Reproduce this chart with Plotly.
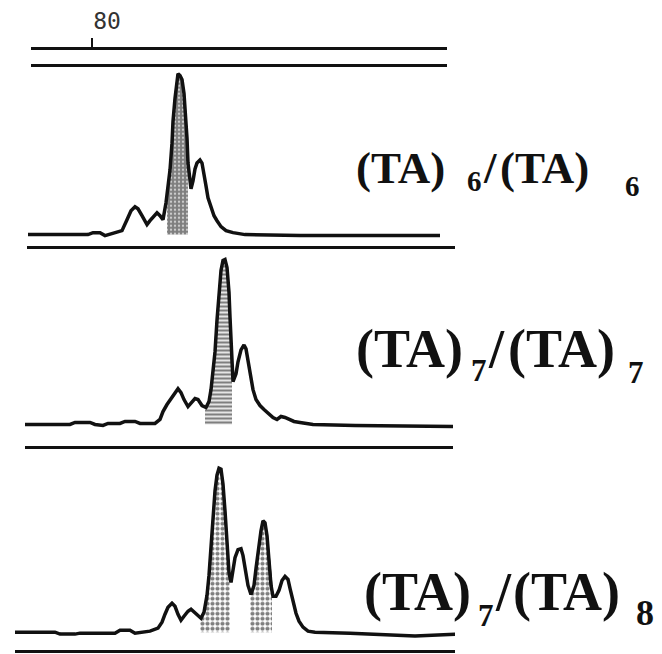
import numpy as np
import plotly.graph_objects as go

# page body adds an 8px margin, so the figure is drawn 8px in from the window corner
OFF = 8
W, H = 662 - OFF, 654 - OFF

# ---------------- data ----------------
ruler_tickvals = [80]
ruler_ticktext = ["80"]

# Panel 1: (TA)6/(TA)6  -- size (bp) vs relative fluorescence
p1_bp = [73.6, 79.6, 80.1, 80.8, 81.3, 82.0, 82.6, 83.0, 83.5, 83.9, 84.3, 84.6, 85.0, 85.5, 85.8,
         86.1, 86.5, 86.8, 87.1, 87.4, 87.6, 87.8, 88.0, 88.1, 88.3, 88.5, 88.6, 88.8, 89.0, 89.2,
         89.4, 89.5, 89.6, 89.8, 89.9, 90.1, 90.3, 90.5, 90.8, 91.0, 91.2, 91.4, 91.6, 91.9, 92.2,
         92.5, 92.9, 93.4, 94.1, 95.3, 100.8, 114.8]
p1_rfu = [0, 0, 2, 2, -1, 1, 2, 4, 15, 24, 28, 26, 19, 10, 14,
          18, 22, 19, 15, 32, 47, 65, 92, 114, 137, 156, 162, 160, 156, 142,
          117, 97, 72, 52, 46, 54, 66, 72, 75, 72, 62, 49, 37, 27, 19,
          14, 8, 4, 2, 0, -1, -1]
p1_shaded = [(87.5, 89.6)]

# Panel 2: (TA)7/(TA)7
p2_bp = [73.3, 77.8, 78.3, 79.8, 80.3, 81.1, 81.6, 82.8, 83.3, 84.3, 84.8, 86.3, 86.8, 87.1, 87.5,
         87.9, 88.3, 88.6, 88.9, 89.2, 89.6, 89.9, 90.3, 90.6, 91.0, 91.4, 91.7, 91.9, 92.1, 92.3,
         92.5, 92.7, 92.9, 93.1, 93.3, 93.5, 93.7, 93.8, 93.9, 94.0, 94.1, 94.4, 94.6, 94.9, 95.2,
         95.4, 95.6, 95.8, 96.1, 96.4, 96.8, 97.2, 97.6, 98.1, 98.5, 98.9, 99.3, 99.7, 100.2, 100.8,
         102.1, 106.3, 116.1]
p2_rfu = [0, 0, 2, 2, 0, -1, 1, 1, 3, 3, 1, 1, 5, 13, 20,
          26, 33, 36, 32, 25, 18, 22, 26, 25, 19, 17, 23, 35, 53, 73,
          105, 133, 155, 165, 166, 158, 133, 108, 83, 58, 43, 51, 63, 75, 80,
          76, 65, 51, 35, 25, 19, 15, 11, 7, 5, 8, 7, 5, 3, 2,
          0, -1, -2]
p2_shaded = [(91.3, 94.0)]

# Panel 3: (TA)7/(TA)8
p3_bp = [72.3, 76.3, 76.8, 78.3, 78.8, 82.3, 82.8, 83.8, 84.3, 85.8, 86.6, 87.0, 87.3, 87.6, 88.0,
         88.3, 88.6, 88.9, 89.2, 89.6, 89.9, 90.2, 90.6, 90.9, 91.2, 91.5, 91.7, 91.9, 92.1, 92.3,
         92.5, 92.7, 92.9, 93.1, 93.3, 93.5, 93.7, 93.9, 94.1, 94.3, 94.6, 94.9, 95.1, 95.3, 95.6,
         95.9, 96.2, 96.4, 96.6, 96.9, 97.1, 97.3, 97.5, 97.7, 97.9, 98.1, 98.4, 98.7, 99.0, 99.3,
         99.6, 99.8, 100.1, 100.4, 100.7, 101.1, 101.6, 102.3, 105.8, 110.3, 112.3, 116.8]
p3_rfu = [0, 0, -2, -2, -1, -1, 2, 2, -1, 1, 4, 10, 18, 25, 29,
          26, 18, 12, 16, 21, 23, 20, 16, 14, 20, 37, 57, 87, 117, 142,
          158, 165, 164, 149, 122, 87, 60, 50, 62, 75, 83, 84, 77, 64, 47,
          38, 47, 64, 82, 102, 112, 110, 97, 72, 47, 36, 36, 42, 52, 56,
          53, 44, 30, 19, 11, 5, 1, 0, -1, -3, -4, -2]
p3_shaded = [(90.8, 93.8), (95.8, 98.0)]

labels = [
    [("(TA)", "main"), ("6", "sub"), ("/", "main"), ("(TA)", "main"), ("6", "sub")],
    [("(TA)", "main"), ("7", "sub"), ("/", "main"), ("(TA)", "main"), ("7", "sub")],
    [("(TA)", "main"), ("7", "sub"), ("/", "main"), ("(TA)", "main"), ("8", "sub")],
]

# ---------------- layout helpers ----------------
INK = "#111111"


def bp_at(px):
    return 80 + (px - 92) / 10.0


def xdom(px0, px1):
    return [(px0 - OFF) / W, (px1 - OFF) / W]


def ydom(top_px, bottom_px):
    return [1 - (bottom_px - OFF) / H, 1 - (top_px - OFF) / H]


fig = go.Figure()

panels = [
    # data, shading, pattern, axis-left px, axis-right px, top px, baseline px, axis-line px
    (p1_bp, p1_rfu, p1_shaded, dict(shape=".", size=4, solidity=0.8), 27, 455, 62, 232, 243),
    (p2_bp, p2_rfu, p2_shaded, dict(shape="-", size=4, solidity=0.6), 25, 453, 250, 423, 445),
    (p3_bp, p3_rfu, p3_shaded, dict(shape=".", size=5, solidity=0.55), 15, 455, 455, 632, 650),
]

for i, (xs, ys, shaded, pat, xl, xr, top, base, axl) in enumerate(panels, start=1):
    xa = "x" if i == 1 else f"x{i}"
    ya = "y" if i == 1 else f"y{i}"
    x = np.array(xs, dtype=float)
    y = np.array(ys, dtype=float)
    for a, b in shaded:
        m = (x >= a) & (x <= b)
        sx = np.concatenate([[a], x[m], [b]])
        sy = np.concatenate([[np.interp(a, x, y)], y[m], [np.interp(b, x, y)]])
        fig.add_trace(go.Scatter(
            x=sx, y=sy, mode="lines", fill="tozeroy",
            line=dict(width=2, color=INK),
            fillcolor="rgba(0,0,0,0)",
            fillpattern=dict(fgcolor="#000", bgcolor="white", **pat),
            xaxis=xa, yaxis=ya, hoverinfo="skip"))
    fig.add_trace(go.Scatter(
        x=x, y=y, mode="lines", line=dict(width=3.5, color=INK),
        xaxis=xa, yaxis=ya, hoverinfo="skip"))
    kx = "xaxis" if i == 1 else f"xaxis{i}"
    ky = "yaxis" if i == 1 else f"yaxis{i}"
    fig.layout[kx] = dict(domain=xdom(xl, xr), range=[bp_at(xl), bp_at(xr)],
                          showline=True, linecolor=INK, linewidth=3,
                          showgrid=False, zeroline=False, showticklabels=False,
                          ticks="", anchor=ya)
    fig.layout[ky] = dict(domain=ydom(top, axl), range=[-(axl - base), base - top],
                          showline=False, showgrid=False, zeroline=False,
                          showticklabels=False, ticks="", anchor=xa)

# top ruler (size scale)
fig.add_trace(go.Scatter(x=[bp_at(31)], y=[0], mode="markers", marker=dict(opacity=0),
                         xaxis="x4", yaxis="y4", hoverinfo="skip"))
fig.layout["xaxis4"] = dict(domain=xdom(31, 447), range=[bp_at(31), bp_at(447)],
                            side="top", showline=True, mirror=True, linecolor=INK, linewidth=3,
                            showgrid=False, zeroline=False, ticks="outside", ticklen=9,
                            tickwidth=2, tickcolor=INK,
                            tickvals=ruler_tickvals, ticktext=ruler_ticktext,
                            tickfont=dict(family="DejaVu Sans Mono", size=23, color="#333"),
                            ticklabelshift=15, anchor="y4")
fig.layout["yaxis4"] = dict(domain=ydom(46, 60), range=[0, 1], visible=False, anchor="x4")

# genotype labels
label_pos = [
    # (main size, sub sizes, center y main, sub center ys, left x of pieces)
    (45, [29, 29], 165, [178, 183], [355, 466, 482, 499, 624]),
    (54, [31, 31], 347, [369, 371], [355, 470, 487, 507, 627]),
    (54, [31, 36], 592, [615, 613], [363, 477, 494, 512, 635]),
]
for pieces, (fs, subfs, yc, suby, lefts) in zip(labels, label_pos):
    si = 0
    for (txt, kind), lx in zip(pieces, lefts):
        if kind == "main":
            size, cy = fs, yc
        else:
            size, cy = subfs[si], suby[si]
            si += 1
        fig.add_annotation(text=f"<b>{txt}</b>", x=(lx - OFF) / W, y=1 - (cy - OFF) / H,
                           xref="paper", yref="paper", xanchor="left", yanchor="middle",
                           showarrow=False, borderpad=0,
                           font=dict(family="Liberation Serif", size=size, color="#111"))

fig.update_layout(width=W, height=H, margin=dict(l=0, r=0, t=0, b=0),
                  paper_bgcolor="white", plot_bgcolor="white", showlegend=False)

fig.write_html("out.html", config={"displayModeBar": False})
